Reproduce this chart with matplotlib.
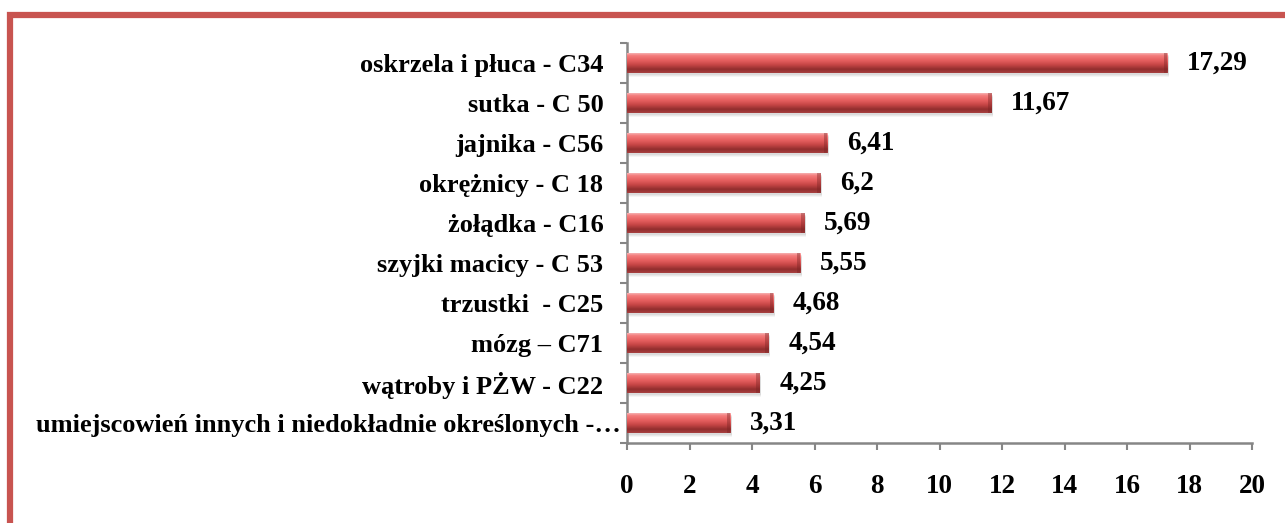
import numpy as np
import matplotlib
matplotlib.use("Agg")
from matplotlib import pyplot as plt
from matplotlib.patches import Rectangle
from matplotlib.colors import LinearSegmentedColormap
from matplotlib.transforms import ScaledTranslation

categories = [
    "oskrzela i płuca - C34",
    "sutka - C 50",
    "jajnika - C56",
    "okrężnicy - C 18",
    "żołądka - C16",
    "szyjki macicy - C 53",
    "trzustki  - C25",
    "mózg – C71",
    "wątroby i PŻW - C22",
    "umiejscowień innych i niedokładnie określonych -…",
]
values = [17.29, 11.67, 6.41, 6.2, 5.69, 5.55, 4.68, 4.54, 4.25, 3.31]
xticks = [0, 2, 4, 6, 8, 10, 12, 14, 16, 18, 20]

plt.rcParams['font.family'] = ['Liberation Serif', 'DejaVu Serif']
plt.rcParams['font.weight'] = 'bold'

fig = plt.figure(figsize=(12.85, 5.23), dpi=100)
ax = fig.add_axes([627 / 1285, 1 - 443 / 523, 625 / 1285, 400 / 523])

y = np.arange(len(categories))
bar_h = 0.5

# soft shadow under each bar
for k, a in [(0.11, 0.08), (0.08, 0.10), (0.05, 0.12)]:
    ax.barh(y + k, values, height=bar_h, left=0.05, color='#808080', alpha=a,
            linewidth=0, zorder=1)

bars = ax.barh(y, values, height=bar_h, color='#d04848', linewidth=0, zorder=2)

# cylinder-like vertical gradient
cmap = LinearSegmentedColormap.from_list('cyl', [
    (0.0, '#f6b0b0'), (0.12, '#f47c7c'), (0.38, '#e45d5d'),
    (0.58, '#c84646'), (0.82, '#922e2e'), (1.0, '#a84040')])
grad = np.linspace(0, 1, 64).reshape(-1, 1)
for b in bars:
    x0, y0 = b.get_x(), b.get_y()
    w, h = b.get_width(), b.get_height()
    im = ax.imshow(grad, cmap=cmap, aspect='auto', zorder=3,
                   extent=[x0, x0 + w, y0 + h, y0], origin='upper')
    im.set_clip_path(b)
    # darker end cap
    ax.add_patch(Rectangle((x0 + w - 0.12, y0), 0.12, h, color='#7a2424',
                           alpha=0.4, linewidth=0, zorder=4))

for yi, v in zip(y, values):
    ax.annotate(f"{v:g}".replace('.', ','), (v, yi), xytext=(14, 0),
                textcoords='offset points', va='center', ha='left',
                fontsize=19.5, fontweight='bold')

ax.set_xlim(0, 20)
ax.set_ylim(len(categories) - 0.5, -0.5)
ax.set_xticks(xticks)
ax.set_xticklabels([str(t) for t in xticks], fontsize=19.5, fontweight='bold')
ax.set_yticks(y)
ax.set_yticklabels(categories, fontsize=19, fontweight='bold')
ax.set_yticks(np.arange(len(categories) + 1) - 0.5, minor=True)

ax.tick_params(axis='y', which='major', length=0, pad=17)
ax.tick_params(axis='y', which='minor', length=5, width=1.5, color='#868686')
ax.tick_params(axis='x', length=5, width=1.5, color='#868686', pad=17)

# the truncated last label sits a bit further right
last = ax.get_yticklabels()[-1]
last.set_transform(last.get_transform() + ScaledTranslation(0.17, 0, fig.dpi_scale_trans))

for s in ['top', 'right']:
    ax.spines[s].set_visible(False)
for s in ['left', 'bottom']:
    ax.spines[s].set_color('#868686')
    ax.spines[s].set_linewidth(1.8)

# red frame (only top and left edges fall inside the picture)
top = 1 - 14.5 / 523
fig.add_artist(Rectangle((10 / 1285, -0.2), 1.3, top + 0.2,
                         transform=fig.transFigure, fill=False,
                         edgecolor='#c85450', linewidth=4.5, clip_on=False))

fig.savefig("out.png", dpi=100)
